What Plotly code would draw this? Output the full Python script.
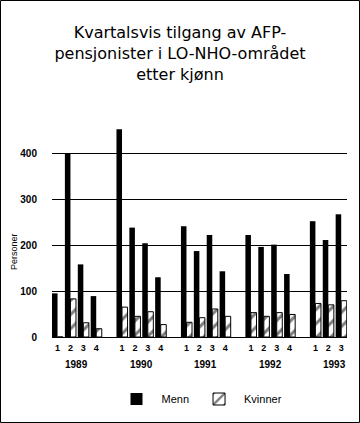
import plotly.graph_objects as go

years = ["1989", "1990", "1991", "1992", "1993"]
quarters = [["1", "2", "3", "4"], ["1", "2", "3", "4"], ["1", "2", "3", "4"],
            ["1", "2", "3", "4"], ["1", "2", "3"]]
menn = [[95, 400, 158, 89], [452, 238, 204, 130], [241, 187, 222, 143],
        [222, 196, 201, 137], [252, 211, 267]]
kvinner = [[0, 83, 31, 18], [65, 45, 55, 27], [32, 42, 61, 45],
           [53, 45, 53, 49], [73, 70, 79]]
yticks = [0, 100, 200, 300, 400]

# slot positions: 4 quarters per year plus one empty slot between years
xs, labels, m_vals, k_vals, year_pos = [], [], [], [], []
slot = 0
for yi, yr in enumerate(years):
    start = slot
    for qi, q in enumerate(quarters[yi]):
        xs.append(slot)
        labels.append(q)
        m_vals.append(menn[yi][qi])
        k_vals.append(kvinner[yi][qi])
        slot += 1
    year_pos.append((start + start + 3) / 2)
    slot += 1

FONT = "Liberation Sans, Arial, sans-serif"
TFONT = "DejaVu Sans, sans-serif"

fig = go.Figure()
fig.add_trace(go.Bar(x=xs, y=m_vals, name="Menn",
                     marker=dict(color="black", line=dict(width=0))))
fig.add_trace(go.Bar(x=xs, y=k_vals, name="Kvinner",
                     marker=dict(color="white", line=dict(color="black", width=1),
                                 pattern=dict(shape="/", fgcolor="black", bgcolor="white",
                                              size=10, solidity=0.3))))

W, H = 360, 423
L, R, T, B = 52, 13, 121, 86
pw, ph = W - L - R, H - T - B

ann = []
for yr, xp in zip(years, year_pos):
    ann.append(dict(x=xp, y=-27 / ph, xref="x", yref="paper", text=yr, showarrow=False,
                    font=dict(family=FONT, size=10, color="black", weight="bold"),
                    xanchor="center", yanchor="middle"))
ann.append(dict(x=-38 / pw, y=(337 - 252) / ph, xref="paper", yref="paper", text="Personer",
                textangle=-90, showarrow=False, font=dict(family=FONT, size=9, color="black"),
                xanchor="center", yanchor="middle"))

fig.update_layout(
    width=W, height=H,
    margin=dict(l=L, r=R, t=T, b=B, autoexpand=False),
    paper_bgcolor="white", plot_bgcolor="white",
    barmode="group", bargap=0.14, bargroupgap=0,
    title=dict(text="Kvartalsvis tilgang av AFP-<br>pensjonister i LO-NHO-området<br>etter kjønn",
               x=0.5, xanchor="center", y=1 - 38 / H, yanchor="top",
               font=dict(family=TFONT, size=16, color="black")),
    xaxis=dict(range=[-0.43, 22.45], tickmode="array", tickvals=xs, ticktext=labels,
               showgrid=False, zeroline=False, showline=False, ticks="",
               ticklabelstandoff=4,
               tickfont=dict(family=FONT, size=9, color="black", weight="bold"),
               fixedrange=True),
    yaxis=dict(range=[0, 470], tickmode="array", tickvals=yticks,
               showgrid=True, gridcolor="black", gridwidth=1, zeroline=True,
               zerolinecolor="black", zerolinewidth=1, showline=False, ticks="",
               ticklabelstandoff=14,
               tickfont=dict(family=FONT, size=10, color="black", weight="bold")),
    legend=dict(orientation="h", x=0.5, xanchor="center", y=-62 / ph, yanchor="middle",
                font=dict(family=FONT, size=11, color="black"), itemwidth=40),
    annotations=ann,
    shapes=[dict(type="rect", xref="paper", yref="paper",
                 x0=(0.5 - L) / pw, x1=(W - 0.5 - L) / pw,
                 y0=(337 - (H - 0.5)) / ph, y1=(337 - 0.5) / ph,
                 line=dict(color="black", width=1))],
)

fig.write_html("out.html")
